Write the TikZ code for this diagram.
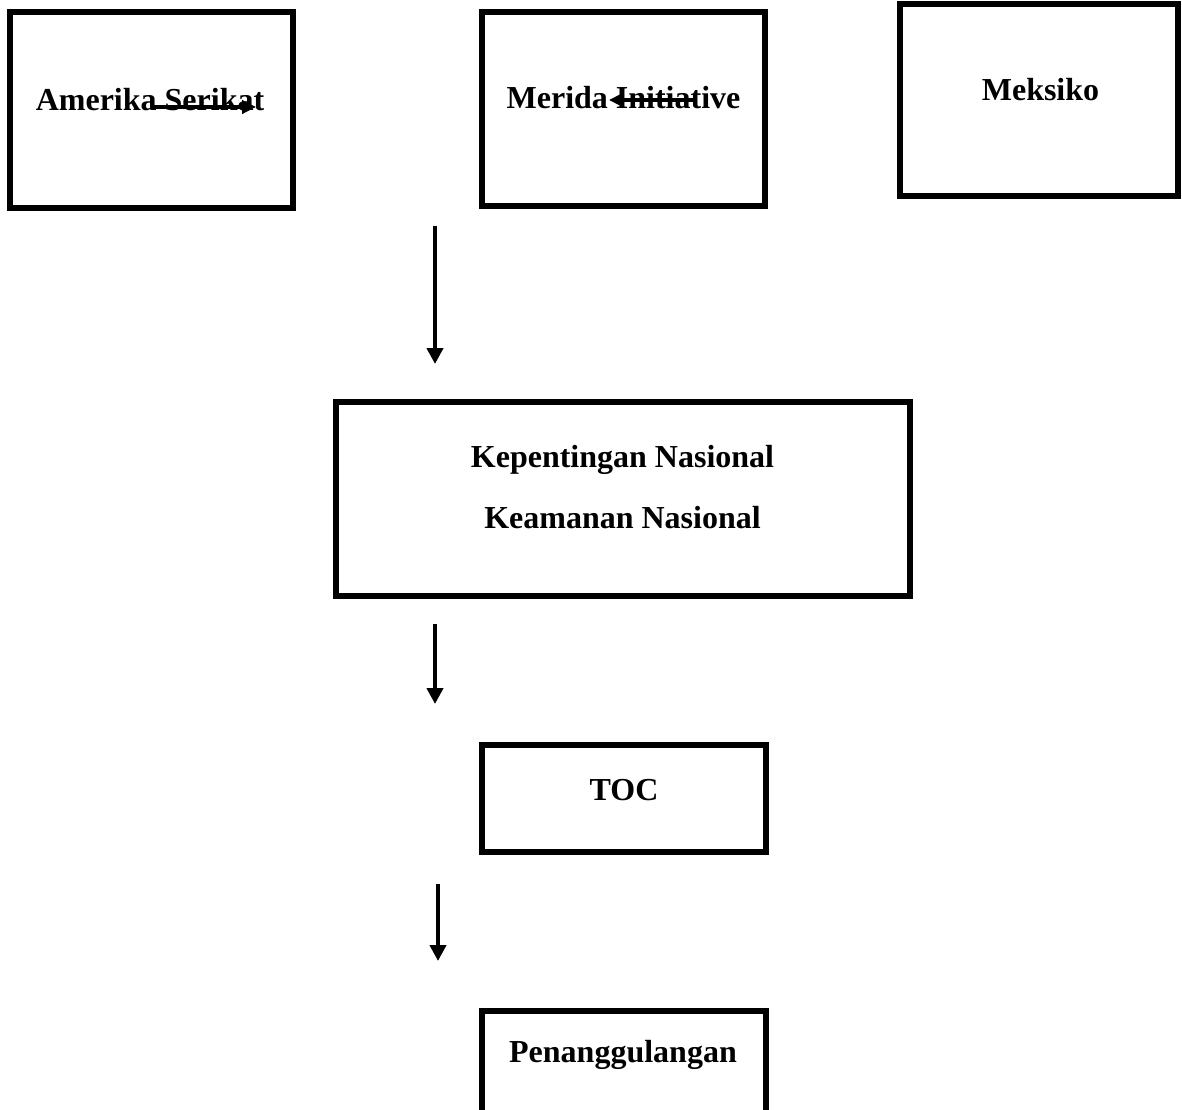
\documentclass[tikz,border=0pt]{standalone}
\usepackage{fontspec}
\setmainfont{Liberation Serif}
\usetikzlibrary{arrows.meta}
\tikzset{
  box/.style={draw=black, line width=4.5pt, rectangle, inner sep=0pt, outer sep=0pt, fill=none},
  lbl/.style={anchor=base, inner sep=0pt, font=\fontsize{24}{28}\selectfont\bfseries},
  bigarrow/.style={line width=3pt, -{Triangle[length=12pt,width=12pt]}},
  smallarrow/.style={line width=2.4pt, -{Triangle[length=10.5pt,width=10pt]}}
}
\begin{document}
\begin{tikzpicture}[x=0.75pt,y=-0.75pt]
\useasboundingbox (0,0) rectangle (1182,1110);
\clip (0,0) rectangle (1182,1110);
% boxes
\node[box, minimum width=212.25pt, minimum height=147pt] (us) at (151.5,110) {};
\node[box, minimum width=212.25pt, minimum height=145.5pt] (mi) at (623.5,109) {};
\node[box, minimum width=208.5pt, minimum height=144pt] (mx) at (1039,100) {};
\node[box, minimum width=430.5pt, minimum height=145.5pt] (kn) at (623,499) {};
\node[box, minimum width=213pt, minimum height=80.25pt] (toc) at (624,798.5) {};
\node[box, minimum width=213pt, minimum height=96.75pt] (pg) at (624,1075.5) {};
% labels
\node[lbl] (usT) at (150,110) {Amerika Serikat};
\node[lbl] (miT) at (623.5,108) {Merida Initiative};
\node[lbl] (mxT) at (1040.5,100) {Meksiko};
\node[lbl] (knT1) at (622.5,467) {Kepentingan Nasional};
\node[lbl] (knT2) at (622.5,528) {Keamanan Nasional};
\node[lbl] (tocT) at (624,800) {TOC};
\node[lbl] (pgT) at (623,1062) {Penanggulangan};
% connector end points
\coordinate (a1s) at (153,107);
\coordinate (a1e) at (256,107);
\coordinate (a2s) at (693,100);
\coordinate (a2e) at (609,100);
\coordinate (v1s) at (435,226);
\coordinate (v1e) at (435,364);
\coordinate (v2s) at (435,624);
\coordinate (v2e) at (435,704);
\coordinate (v3s) at (438,884);
\coordinate (v3e) at (438,961);
% arrows
\draw[smallarrow] (a1s) -- (a1e);
\draw[smallarrow] (a2s) -- (a2e);
\draw[bigarrow] (v1s) -- (v1e);
\draw[bigarrow] (v2s) -- (v2e);
\draw[bigarrow] (v3s) -- (v3e);
\end{tikzpicture}
\end{document}
